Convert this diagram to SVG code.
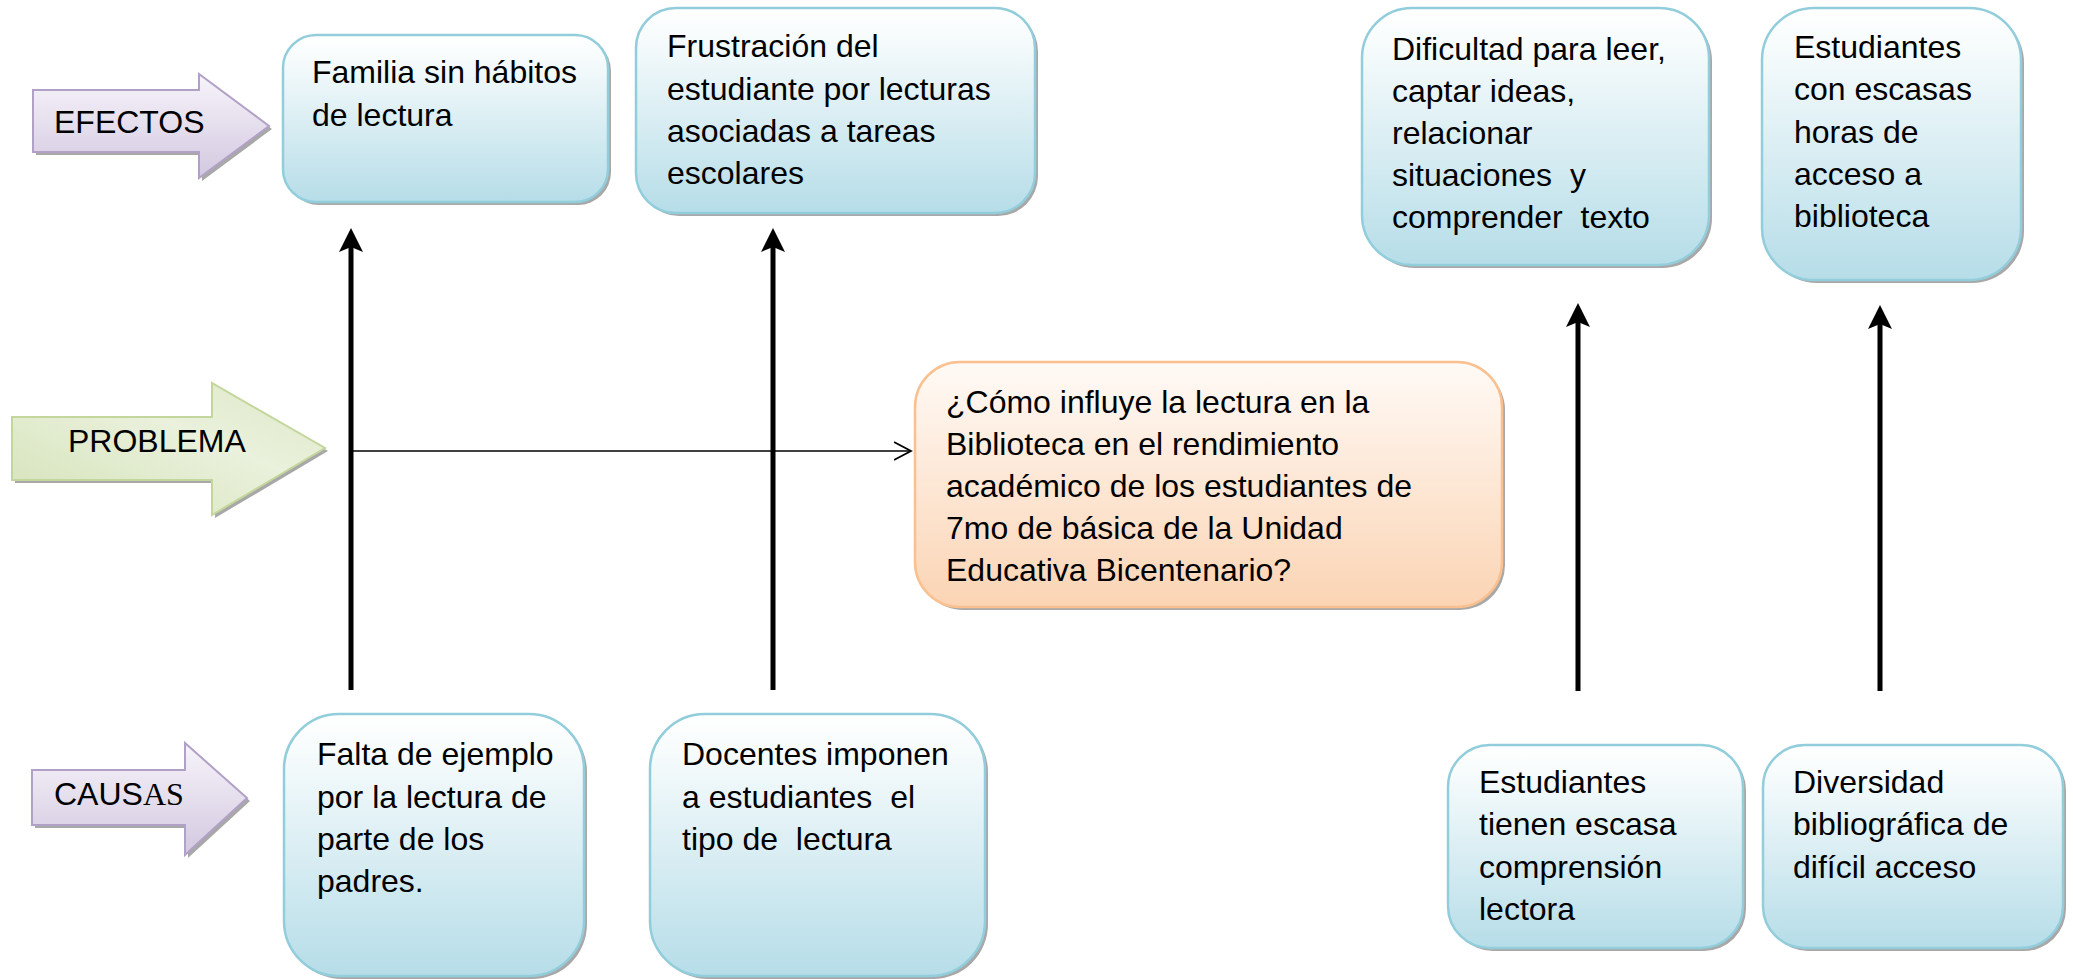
<svg xmlns="http://www.w3.org/2000/svg" width="2073" height="979" viewBox="0 0 2073 979">
<style>
.t{font-family:"Liberation Sans",Arial,sans-serif;font-size:32px;fill:#000;white-space:pre}
.box{fill:url(#gBlue);stroke:#92cddc;stroke-width:2.5}
.shadow{fill:#a8a8a8}
.orange{fill:url(#gOrange);stroke:#fac08f;stroke-width:2.5}
.purple{fill:url(#gPurple);stroke:#b2a1c7;stroke-width:2}
.green{fill:url(#gGreen);stroke:#c3d69b;stroke-width:2}
.thick{stroke:#000;stroke-width:5;fill:none;marker-end:url(#mThick)}
.thin{stroke:#000;stroke-width:1.6;fill:none;marker-end:url(#mThin)}
</style>
<defs>
<linearGradient id="gBlue" x1="0" y1="0" x2="0" y2="1">
<stop offset="0" stop-color="#ffffff"/>
<stop offset="0.15" stop-color="#f6fbfc"/>
<stop offset="1" stop-color="#b6dde8"/>
</linearGradient>
<linearGradient id="gOrange" x1="0" y1="0" x2="0" y2="1">
<stop offset="0" stop-color="#fffaf6"/>
<stop offset="1" stop-color="#fbd4b4"/>
</linearGradient>
<linearGradient id="gPurple" x1="0" y1="0" x2="0" y2="1">
<stop offset="0" stop-color="#f7f4fa"/>
<stop offset="1" stop-color="#d3c8e0"/>
</linearGradient>
<linearGradient id="gGreen" x1="0" y1="1" x2="1" y2="0">
<stop offset="0" stop-color="#d4e2b8"/>
<stop offset="0.6" stop-color="#eaf1dc"/>
<stop offset="1" stop-color="#dde8c7"/>
</linearGradient>
<marker id="mThick" markerUnits="userSpaceOnUse" markerWidth="26" markerHeight="26" viewBox="0 -13 26 26" refX="5" refY="0" orient="auto">
<path d="M0,-12 L24,0 L0,12 L5,0 Z" fill="#000"/>
</marker>
<marker id="mThin" markerUnits="userSpaceOnUse" markerWidth="20" markerHeight="20" viewBox="0 -10 20 20" refX="17" refY="0" orient="auto">
<path d="M0,-9 L17,0 L0,9" fill="none" stroke="#000" stroke-width="1.8"/>
</marker>
</defs>
<rect width="2073" height="979" fill="#fff"/>

<g id="label-efectos">
<path class="shadow" d="M36,93 L202,93 L202,77 L272,129 L202,181 L202,155 L36,155 Z"/>
<path class="purple" d="M33,90 L199,90 L199,74 L269,126 L199,178 L199,152 L33,152 Z"/>
<text class="t" x="54" y="133">EFECTOS</text>
</g>

<g id="label-problema">
<path class="shadow" d="M15,420 L215,420 L215,386 L328,451 L215,518 L215,483 L15,483 Z"/>
<path class="green" d="M12,417 L212,417 L212,383 L325,448 L212,515 L212,480 L12,480 Z"/>
<text class="t" x="68" y="452">PROBLEMA</text>
</g>

<g id="label-causas">
<path class="shadow" d="M35,773 L188,773 L188,746 L250,801 L188,858 L188,828 L35,828 Z"/>
<path class="purple" d="M32,770 L185,770 L185,743 L247,798 L185,855 L185,825 L32,825 Z"/>
<text class="t" x="54" y="805">CAUS<tspan style="font-family:'Liberation Serif','Times New Roman',serif">AS</tspan></text>
</g>

<g id="connectors">
<line class="thick" x1="351" y1="690" x2="351" y2="247"/>
<line class="thick" x1="773" y1="690" x2="773" y2="247"/>
<line class="thick" x1="1578" y1="691" x2="1578" y2="322"/>
<line class="thick" x1="1880" y1="691" x2="1880" y2="324"/>
<line class="thin" x1="351" y1="451" x2="911" y2="451"/>
</g>

<g id="efecto-familia">
<rect class="shadow" x="286" y="38" width="325" height="167" rx="33"/>
<rect class="box" x="283" y="35" width="325" height="167" rx="33"/>
<text class="t" x="312" y="83">Familia sin hábitos</text>
<text class="t" x="312" y="126">de lectura</text>
</g>

<g id="efecto-frustracion">
<rect class="shadow" x="639" y="11" width="399" height="205" rx="40"/>
<rect class="box" x="636" y="8" width="399" height="205" rx="40"/>
<text class="t" x="667" y="57">Frustración del</text>
<text class="t" x="667" y="100">estudiante por lecturas</text>
<text class="t" x="667" y="142">asociadas a tareas</text>
<text class="t" x="667" y="184">escolares</text>
</g>

<g id="efecto-dificultad">
<rect class="shadow" x="1365" y="11" width="347" height="257" rx="50"/>
<rect class="box" x="1362" y="8" width="347" height="257" rx="50"/>
<text class="t" x="1392" y="60">Dificultad para leer,</text>
<text class="t" x="1392" y="102">captar ideas,</text>
<text class="t" x="1392" y="144">relacionar</text>
<text class="t" x="1392" y="186">situaciones  y</text>
<text class="t" x="1392" y="228">comprender  texto</text>
</g>

<g id="efecto-horas">
<rect class="shadow" x="1765" y="11" width="259" height="272" rx="52"/>
<rect class="box" x="1762" y="8" width="259" height="272" rx="52"/>
<text class="t" x="1794" y="58">Estudiantes</text>
<text class="t" x="1794" y="100">con escasas</text>
<text class="t" x="1794" y="143">horas de</text>
<text class="t" x="1794" y="185">acceso a</text>
<text class="t" x="1794" y="227">biblioteca</text>
</g>

<g id="problema">
<rect class="shadow" x="918" y="365" width="587" height="245" rx="45"/>
<rect class="orange" x="915" y="362" width="587" height="245" rx="45"/>
<text class="t" x="946" y="413">¿Cómo influye la lectura en la</text>
<text class="t" x="946" y="455">Biblioteca en el rendimiento</text>
<text class="t" x="946" y="497">académico de los estudiantes de</text>
<text class="t" x="946" y="539">7mo de básica de la Unidad</text>
<text class="t" x="946" y="581">Educativa Bicentenario?</text>
</g>

<g id="causa-falta">
<rect class="shadow" x="287" y="717" width="300" height="262" rx="55"/>
<rect class="box" x="284" y="714" width="300" height="262" rx="55"/>
<text class="t" x="317" y="765">Falta de ejemplo</text>
<text class="t" x="317" y="808">por la lectura de</text>
<text class="t" x="317" y="850">parte de los</text>
<text class="t" x="317" y="892">padres.</text>
</g>

<g id="causa-docentes">
<rect class="shadow" x="653" y="717" width="335" height="262" rx="55"/>
<rect class="box" x="650" y="714" width="335" height="262" rx="55"/>
<text class="t" x="682" y="765">Docentes imponen</text>
<text class="t" x="682" y="808">a estudiantes  el</text>
<text class="t" x="682" y="850">tipo de  lectura</text>
</g>

<g id="causa-comprension">
<rect class="shadow" x="1451" y="748" width="295" height="203" rx="42"/>
<rect class="box" x="1448" y="745" width="295" height="203" rx="42"/>
<text class="t" x="1479" y="793">Estudiantes</text>
<text class="t" x="1479" y="835">tienen escasa</text>
<text class="t" x="1479" y="878">comprensión</text>
<text class="t" x="1479" y="920">lectora</text>
</g>

<g id="causa-diversidad">
<rect class="shadow" x="1766" y="748" width="300" height="203" rx="42"/>
<rect class="box" x="1763" y="745" width="300" height="203" rx="42"/>
<text class="t" x="1793" y="793">Diversidad</text>
<text class="t" x="1793" y="835">bibliográfica de</text>
<text class="t" x="1793" y="878">difícil acceso</text>
</g>
</svg>
